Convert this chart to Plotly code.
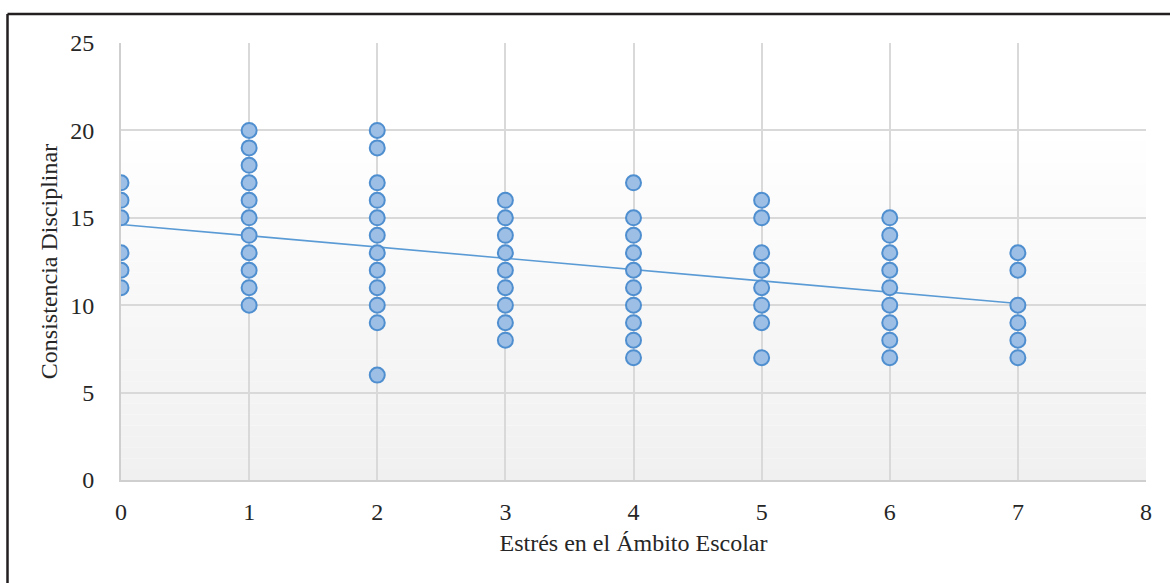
import plotly.graph_objects as go

# Data
estres_x = (
    [0] * 6 + [1] * 11 + [2] * 12 + [3] * 9 + [4] * 10 + [5] * 8 + [6] * 9 + [7] * 6
)
consistencia_y = (
    [17, 16, 15, 13, 12, 11]
    + [20, 19, 18, 17, 16, 15, 14, 13, 12, 11, 10]
    + [20, 19, 17, 16, 15, 14, 13, 12, 11, 10, 9, 6]
    + [16, 15, 14, 13, 12, 11, 10, 9, 8]
    + [17, 15, 14, 13, 12, 11, 10, 9, 8, 7]
    + [16, 15, 13, 12, 11, 10, 9, 7]
    + [15, 14, 13, 12, 11, 10, 9, 8, 7]
    + [13, 12, 10, 9, 8, 7]
)
trend_x = [0, 7]
trend_y = [14.62, 10.1]

x_ticks = [0, 1, 2, 3, 4, 5, 6, 7, 8]
y_ticks = [0, 5, 10, 15, 20, 25]

FONT = "Liberation Serif, Times New Roman, serif"
W, H = 1170, 583
ML, MR, MT, MB = 121, 24, 43, 103
pw, ph = W - ML - MR, H - MT - MB

fig = go.Figure()

fig.add_trace(go.Scatter(
    x=trend_x, y=trend_y, mode="lines",
    line=dict(color="#5b9bd5", width=1.6),
    hoverinfo="skip", showlegend=False,
))
fig.add_trace(go.Scatter(
    x=estres_x, y=consistencia_y, mode="markers",
    marker=dict(size=15, color="#9dbfe6", line=dict(color="#4f8fd0", width=2)),
    showlegend=False,
))

# Background gradient (white at top, light gray at bottom)
shapes = []
n = 40
for i in range(n):
    y0 = i / n
    y1 = (i + 1) / n
    t = 1 - (i + 0.5) / n  # 1 at bottom, 0 at top
    t = max(0.0, (t - 0.2) / 0.8) if t > 0.2 else 0.0
    c = round(255 - 15 * t)
    shapes.append(dict(
        type="rect", xref="paper", yref="paper", x0=0, x1=1, y0=y0, y1=y1,
        fillcolor=f"rgb({c},{c},{c})", line=dict(width=0), layer="below",
    ))

# Outer black border (top and left visible)
bx0 = (7.5 - ML) / pw
by_top = 1 + (MT - 14) / ph
by_bot = -(MB + 5) / ph
bx_right = (W + 5 - ML) / pw
shapes.append(dict(type="line", xref="paper", yref="paper",
                   x0=bx0, x1=bx_right, y0=by_top, y1=by_top,
                   line=dict(color="#231f20", width=2.5)))
shapes.append(dict(type="line", xref="paper", yref="paper",
                   x0=bx0, x1=bx0, y0=by_top, y1=by_bot,
                   line=dict(color="#231f20", width=2.5)))

fig.update_layout(
    width=W, height=H,
    margin=dict(l=ML, r=MR, t=MT, b=MB),
    paper_bgcolor="white",
    plot_bgcolor="rgba(0,0,0,0)",
    font=dict(family=FONT, size=24, color="#262626"),
    shapes=shapes,
    xaxis=dict(
        range=[0, 8], tickvals=x_ticks, ticktext=[str(v) for v in x_ticks],
        showgrid=True, gridcolor="#d9d9d9", gridwidth=2,
        zeroline=False, showline=True, linecolor="#cfcfcf", linewidth=2,
        ticks="", ticklabelstandoff=9,
        title=dict(text="Estrés en el Ámbito Escolar", font=dict(size=24), standoff=10),
    ),
    yaxis=dict(
        range=[0, 25], tickvals=y_ticks, ticktext=[str(v) for v in y_ticks],
        showgrid=True, gridcolor="#d9d9d9", gridwidth=2,
        zeroline=False, showline=True, linecolor="#cfcfcf", linewidth=2,
        ticks="", ticklabelstandoff=20,
        title=dict(text="Consistencia Disciplinar", font=dict(size=24), standoff=6),
    ),
)

fig.write_html(
    "out.html",
    config={"displayModeBar": False},
    post_script="document.body.style.margin='0';document.body.style.overflow='hidden';",
)
